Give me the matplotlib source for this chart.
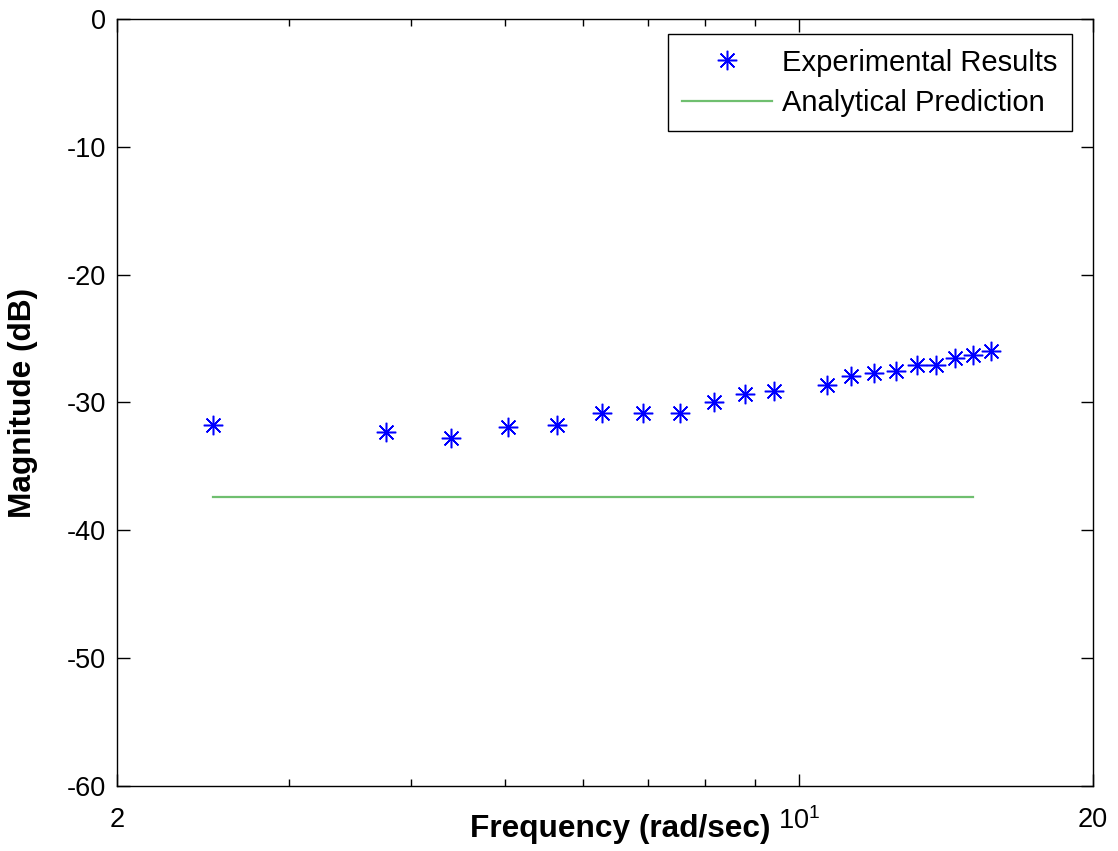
import matplotlib
matplotlib.use('Agg')
import matplotlib.pyplot as plt
from matplotlib.ticker import FixedLocator, NullFormatter

plt.rcParams['font.family'] = ['Liberation Sans', 'DejaVu Sans']
plt.rcParams['mathtext.fontset'] = 'custom'
plt.rcParams['mathtext.rm'] = 'Liberation Sans'
plt.rcParams['axes.unicode_minus'] = False

# measured frequency response (rad/sec, dB)
freq = [2.51, 3.77, 4.40, 5.03, 5.65, 6.28, 6.91, 7.54, 8.17, 8.80,
        9.42, 10.68, 11.31, 11.94, 12.57, 13.19, 13.82, 14.45, 15.08, 15.71]
mag = [-31.8, -32.3, -32.8, -31.95, -31.8, -30.86, -30.86, -30.86, -30.0, -29.3,
       -29.1, -28.6, -27.9, -27.7, -27.55, -27.05, -27.05, -26.5, -26.3, -25.95]

# analytical prediction (flat line)
pred_freq = [2.51, 15.08]
pred_mag = [-37.4, -37.4]

xticks = [2, 10, 20]
xticklabels = ['2', r'$\mathregular{10^{1}}$', '20']
xminor = [3, 4, 5, 6, 7, 8, 9]
yticks = [0, -10, -20, -30, -40, -50, -60]

fig = plt.figure(figsize=(11.18, 8.51), dpi=100)
ax = fig.add_axes([0.1047, 0.0764, 0.873, 0.9013])

ax.plot(freq, mag, linestyle='none', marker=(8, 2, 0), markersize=14,
        markeredgewidth=1.1, color='#0000ff', label='Experimental Results')
ax.plot(pred_freq, pred_mag, color='#6fbf6f', linewidth=1.6,
        label='Analytical Prediction')

ax.set_xscale('log')
ax.set_xlim(2, 20)
ax.set_ylim(-60, 0)
ax.xaxis.set_major_locator(FixedLocator(xticks))
ax.set_xticklabels(xticklabels)
ax.xaxis.set_minor_locator(FixedLocator(xminor))
ax.xaxis.set_minor_formatter(NullFormatter())
ax.set_yticks(yticks)

ax.tick_params(which='both', direction='in', top=True, right=True,
               labelsize=19.5, width=1)
ax.tick_params(which='major', length=9)
ax.tick_params(which='minor', length=5)
ax.tick_params(axis='x', pad=15)
ax.tick_params(axis='y', pad=8)
for s in ax.spines.values():
    s.set_linewidth(1)

ax.set_xlabel('Frequency (rad/sec)', fontsize=22.8, fontweight='bold', va='top')
ax.xaxis.set_label_coords(0.5154, -0.0365)
ax.set_ylabel('Magnitude (dB)', fontsize=22.8, fontweight='bold', va='center')
ax.yaxis.set_label_coords(-0.096, 0.5)

leg = ax.legend(loc='upper right', bbox_to_anchor=(0.9785, 0.9804),
                borderaxespad=0, fontsize=21, fancybox=False,
                edgecolor='black', framealpha=1, handlelength=3.08,
                handletextpad=0.34, borderpad=0.5, labelspacing=0.42)
leg.get_frame().set_linewidth(1)

fig.savefig('out.png', dpi=100)
